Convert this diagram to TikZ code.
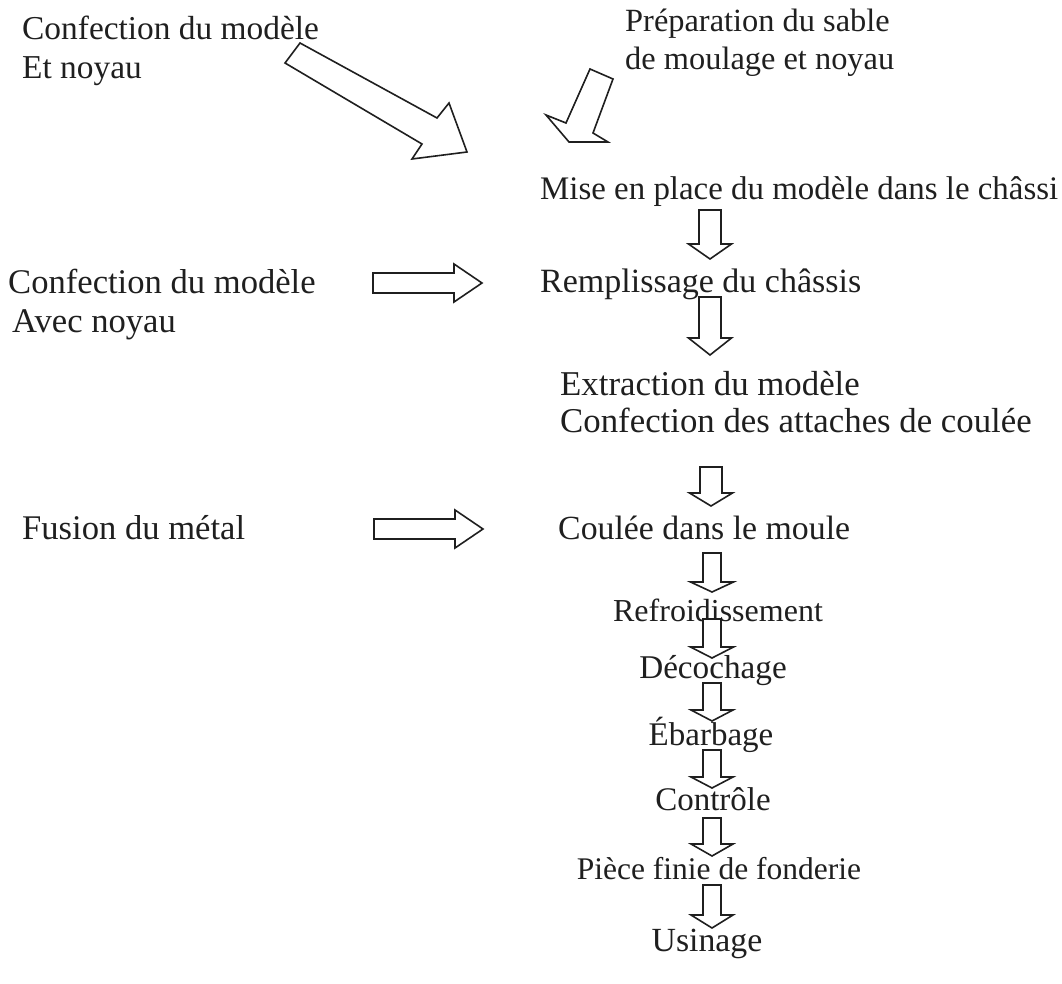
\documentclass[tikz,border=0pt]{standalone}
\usepackage{fontspec}
\setmainfont{Liberation Serif}
\tikzset{
  lbl/.style={inner sep=0pt, text=black!88, font=\fontsize{#1}{#1}\selectfont},
  lbl/.default=34,
  barr/.style={draw=black!88, line width=1.6pt, line join=miter, fill=white}
}
% vertical block arrow: centre x, top y, barb y, tip y, half shaft, half head
\newcommand\bdarrow[6]{%
  \draw[barr] ({#1-#5},#2) -- ({#1+#5},#2) -- ({#1+#5},#3) -- ({#1+#6},#3)
    -- (#1,#4) -- ({#1-#6},#3) -- ({#1-#5},#3) -- cycle;}
% horizontal block arrow: left x, centre y, barb x, tip x, half shaft, half head
\newcommand\bharrow[6]{%
  \draw[barr] (#1,{#2-#5}) -- (#3,{#2-#5}) -- (#3,{#2-#6}) -- (#4,#2)
    -- (#3,{#2+#6}) -- (#3,{#2+#5}) -- (#1,{#2+#5}) -- cycle;}
\begin{document}
\begin{tikzpicture}[x=1pt,y=-1pt]
\useasboundingbox (0,0) rectangle (1062,984);

% side inputs
\node[lbl=33.4, anchor=base west] (cm1) at (22,40) {Confection du modèle};
\node[lbl=33.4, anchor=base west] (cm1b) at (22,79) {Et noyau};
\node[lbl=32.4, anchor=base west] (ps) at (625,32) {Préparation du sable};
\node[lbl=32.4, anchor=base west] (psb) at (625,70) {de moulage et noyau};
\node[lbl=34.6, anchor=base west] (cm2) at (8,293) {Confection du modèle};
\node[lbl=34.6, anchor=base west] (cm2b) at (12,332) {Avec noyau};
\node[lbl=34.6, anchor=base west] (fm) at (22,539) {Fusion du métal};

% main chain
\node[lbl=32.9, anchor=base west] (mp) at (540,200) {Mise en place du modèle dans le châssi};
\node[lbl=34, anchor=base west] (rc) at (540,292) {Remplissage du châssis};
\node[lbl=34.8, anchor=base west] (em) at (560,395) {Extraction du modèle};
\node[lbl=34.8, anchor=base west] (ca) at (560,432) {Confection des attaches de coulée};
\node[lbl=33.8, anchor=base west] (cd) at (558,539) {Coulée dans le moule};
\node[lbl=32, anchor=base] (rf) at (718,621) {Refroidissement};
\node[lbl=33.2, anchor=base] (dc) at (713,678) {Décochage};
\node[lbl=33, anchor=base] (eb) at (711,745) {Ébarbage};
\node[lbl=33, anchor=base] (ct) at (713,810) {Contrôle};
\node[lbl=31.5, anchor=base] (pf) at (719,879) {Pièce finie de fonderie};
\node[lbl=33.8, anchor=base] (us) at (707,951) {Usinage};

% big diagonal arrow
\draw[barr] (300,43) -- (437,118) -- (449,103) -- (467,152) -- (412,159)
  -- (422,144) -- (285,63) -- cycle;
% small diagonal arrow
\draw[barr] (590,69) -- (613,79) -- (593,133) -- (608,142) -- (569,142)
  -- (546,115) -- (566,123) -- cycle;

% horizontal arrows
\bharrow{373}{283}{454}{482}{10}{19}
\bharrow{374}{529}{455}{483}{10}{19}

% vertical arrows
\bdarrow{710}{210}{244}{259}{11}{21.5}
\bdarrow{710}{297}{338}{355}{11}{21.5}
\bdarrow{711}{467}{493}{506}{11}{21.5}
\bdarrow{712}{553}{582}{592}{9}{21.5}
\bdarrow{712}{619}{647}{658}{9}{21.5}
\bdarrow{712}{683}{710}{721}{9}{21}
\bdarrow{712}{750}{777}{788}{9}{21}
\bdarrow{712}{818}{844}{856}{9}{21}
\bdarrow{712}{885}{915}{928}{9}{21}
\end{tikzpicture}
\end{document}
